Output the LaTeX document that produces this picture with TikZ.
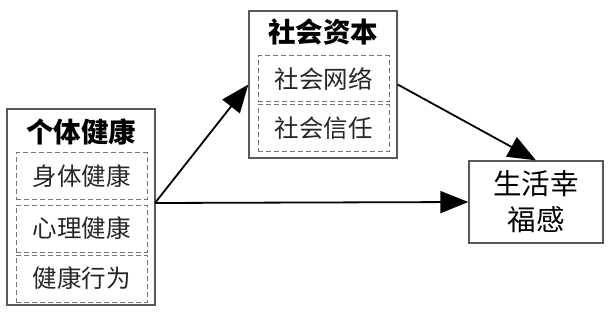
\documentclass[tikz,border=0pt]{standalone}
\usepackage{fontspec}
\setmainfont{Noto Sans CJK SC}
\usepackage{xcolor}
\usepackage{tikz}
\usetikzlibrary{arrows.meta, positioning, calc}

\tikzset{
  outerbox/.style={draw=black!65, line width=1.3pt, rectangle, minimum width=148pt},
  itembox/.style={draw=black!55, dashed, dash pattern=on 5pt off 3pt, line width=1pt,
    rectangle, minimum width=131pt, minimum height=46pt, font=\fontsize{24.5}{28}\selectfont, text=black!85},
  titletext/.style={font=\fontsize{27.5}{32}\selectfont\bfseries},
  bigarrow/.style={line width=1.8pt, -{Triangle[length=28pt, width=22pt]}}
}

\begin{document}
\begin{tikzpicture}[x=1pt, y=-1pt]
  \useasboundingbox (0,0) rectangle (609,312);

  % individual health
  \node[outerbox, minimum height=196pt] (health) at (81, 207) {};
  \node[titletext] (healthtitle) at (81, 132) {个体健康};
  \node[itembox] (body) at (81.5, 176) {身体健康};
  \node[itembox, minimum height=47pt] (mind) at (81.5, 228.5) {心理健康};
  \node[itembox, minimum height=47pt] (habit) at (81.5, 278.5) {健康行为};

  % social capital
  \node[outerbox, minimum height=147pt] (capital) at (323, 84.5) {};
  \node[titletext] (capitaltitle) at (323, 32) {社会资本};
  \node[itembox] (network) at (323.5, 79) {社会网络};
  \node[itembox, minimum height=47pt] (trust) at (323.5, 128.5) {社会信任};

  % life satisfaction
  \node[outerbox, minimum width=134pt, minimum height=82pt, align=center,
    font=\fontsize{28.5}{36}\selectfont] (happy) at (536, 202) {生活幸\\福感};

  \coordinate (fork) at (155, 203);
  \draw[bigarrow] (fork) -- (capital.west);
  \draw[bigarrow] (fork) -- (happy.west);
  \draw[bigarrow] (capital.east) -- (happy.north);
\end{tikzpicture}
\end{document}
